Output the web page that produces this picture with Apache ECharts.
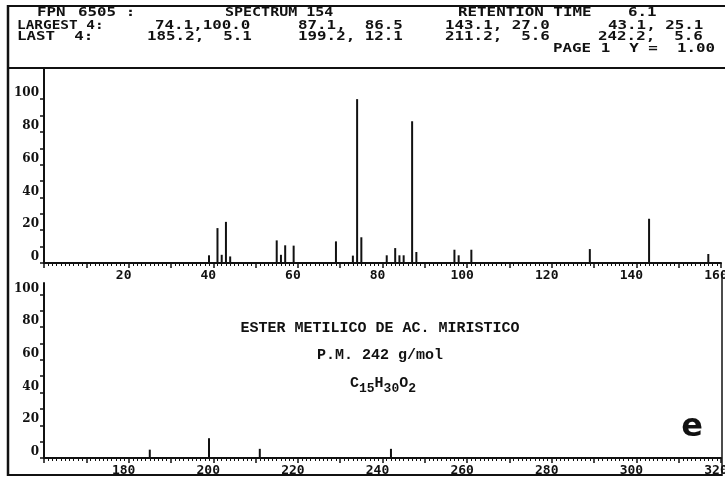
<!DOCTYPE html>
<html>
<head>
<meta charset="utf-8">
<script src="https://cdn.jsdelivr.net/npm/echarts@6/dist/echarts.min.js"></script>
<style>
  html, body { margin: 0; padding: 0; background: #fff; }
  #chart { width: 725px; height: 477px; }
</style>
</head>
<body>
<div id="chart"></div>
<script>
// Mass spectrum of methyl myristate, m/z vs relative abundance (%)
const mzLow = [39, 41, 42, 43, 44, 55, 56, 57, 59, 69, 73, 74, 75, 81, 83, 84, 85, 87, 88, 97, 98, 101, 129, 143, 157];
const abundLow = [4.7, 21.3, 5.0, 25.1, 4.0, 13.8, 5.0, 10.8, 10.6, 13.2, 4.5, 100.0, 15.7, 4.7, 9.1, 4.7, 4.7, 86.5, 6.7, 8.1, 4.7, 8.1, 8.5, 27.0, 5.5];
const mzHigh = [185, 199, 211, 242];
const abundHigh = [5.1, 12.1, 5.6, 5.6];

const lowMzLabels = [20, 40, 60, 80, 100, 120, 140, 160];
const highMzLabels = [180, 200, 220, 240, 260, 280, 300, 320];
const abundLabels = [0, 20, 40, 60, 80, 100];
const abundTicks = [0, 10, 20, 30, 40, 50, 60, 70, 80, 90, 100];

const INK = '#111';
const MONO = 'bold 12px "DejaVu Sans Mono", monospace';
const TYPE = 'bold 15px "Liberation Mono", monospace';

function pairs(xs, ys) { return xs.map((x, i) => [x, ys[i]]); }

function xAxisDef(grid, min, max, labels) {
  return {
    type: 'value', gridIndex: grid, min: min, max: max, interval: 10,
    axisLine: { show: true, onZero: false, lineStyle: { color: INK, width: 2 } },
    axisTick: { show: true, length: 5, lineStyle: { color: INK, width: 1.5 } },
    minorTick: { show: true, splitNumber: 10, length: 3, lineStyle: { color: INK, width: 1 } },
    splitLine: { show: false },
    axisLabel: {
      customValues: labels, color: INK, margin: 6,
      fontFamily: '"DejaVu Sans Mono", monospace', fontWeight: 'bold', fontSize: 13,
      padding: [0, 10, 0, 0]
    }
  };
}

function yAxisDef(grid, max) {
  return {
    type: 'value', gridIndex: grid, min: 0, max: max,
    axisLine: { show: true, lineStyle: { color: INK, width: 2 } },
    axisTick: { show: true, customValues: abundTicks, length: 4, lineStyle: { color: INK, width: 1.5 } },
    splitLine: { show: false },
    axisLabel: {
      customValues: abundLabels, color: INK, margin: 5,
      fontFamily: '"DejaVu Serif", serif', fontWeight: 'bold', fontSize: 12,
      verticalAlign: 'bottom', lineHeight: 12
    }
  };
}

function headerText(x, y, text, sx) {
  return {
    type: 'text', x: x, y: y, scaleX: sx || 1.32,
    style: { text: text, font: MONO, fill: INK, verticalAlign: 'middle', align: 'left' }
  };
}

function rule(x1, y1, x2, y2, w) {
  return { type: 'line', shape: { x1: x1, y1: y1, x2: x2, y2: y2 }, style: { stroke: INK, lineWidth: w || 2 } };
}

const chart = echarts.init(document.getElementById('chart'), null, { renderer: 'canvas' });

chart.setOption({
  backgroundColor: '#fff',
  animation: false,
  grid: [
    { left: 44, right: 4, top: 68, bottom: 214, outerBoundsMode: 'none', containLabel: false },
    { left: 44, right: 4, top: 283, bottom: 19, outerBoundsMode: 'none', containLabel: false }
  ],
  xAxis: [
    xAxisDef(0, 0, 160, lowMzLabels),
    xAxisDef(1, 160, 320, highMzLabels)
  ],
  yAxis: [
    yAxisDef(0, 119),
    yAxisDef(1, 107)
  ],
  series: [
    {
      type: 'bar', xAxisIndex: 0, yAxisIndex: 0, barWidth: 2,
      itemStyle: { color: INK }, data: pairs(mzLow, abundLow)
    },
    {
      type: 'bar', xAxisIndex: 1, yAxisIndex: 1, barWidth: 2,
      itemStyle: { color: INK }, data: pairs(mzHigh, abundHigh)
    }
  ],
  graphic: [
    // frame
    rule(8, 6, 725, 6, 2),
    rule(8, 68, 725, 68, 2),
    rule(8, 5, 8, 476, 2.5),
    rule(8, 475, 722, 475, 2),
    rule(722, 272, 722, 476, 1.5),
    // header block
    headerText(37, 13, 'FPN'),
    headerText(78, 13, '6505 :'),
    headerText(225, 13, 'SPECTRUM 154', 1.25),
    headerText(458, 13, 'RETENTION TIME'),
    headerText(628, 13, '6.1'),
    headerText(17, 26, 'LARGEST 4:', 1.2),
    headerText(155, 26, '74.1,100.0'),
    headerText(298, 26, '87.1,  86.5'),
    headerText(445, 26, '143.1, 27.0'),
    headerText(608, 26, '43.1, 25.1'),
    headerText(17, 37, 'LAST  4:'),
    headerText(147, 37, '185.2,  5.1'),
    headerText(298, 37, '199.2, 12.1'),
    headerText(445, 37, '211.2,  5.6'),
    headerText(598, 37, '242.2,  5.6'),
    headerText(553, 49, 'PAGE 1  Y =  1.00'),
    // compound caption
    {
      type: 'text', x: 380, y: 328,
      style: { text: 'ESTER METILICO DE AC. MIRISTICO', font: TYPE, fill: INK, align: 'center', verticalAlign: 'middle' }
    },
    {
      type: 'text', x: 380, y: 355,
      style: { text: 'P.M. 242 g/mol', font: TYPE, fill: INK, align: 'center', verticalAlign: 'middle' }
    },
    {
      type: 'text', x: 383, y: 386,
      style: {
        text: '{a|C}{s|15}{a|H}{s|30}{a|O}{s|2}',
        align: 'center', verticalAlign: 'middle',
        rich: {
          a: { font: TYPE, fill: INK, color: INK, padding: [0, 0, 6, 0] },
          s: { font: 'bold 13px "Liberation Mono", monospace', fill: INK, color: INK, padding: [6, 0, 0, 0] }
        }
      }
    },
    {
      type: 'text', x: 692, y: 428,
      style: { text: 'e', font: 'bold 32px "DejaVu Sans", sans-serif', fill: INK, align: 'center', verticalAlign: 'middle' }
    }
  ]
});
</script>
</body>
</html>
